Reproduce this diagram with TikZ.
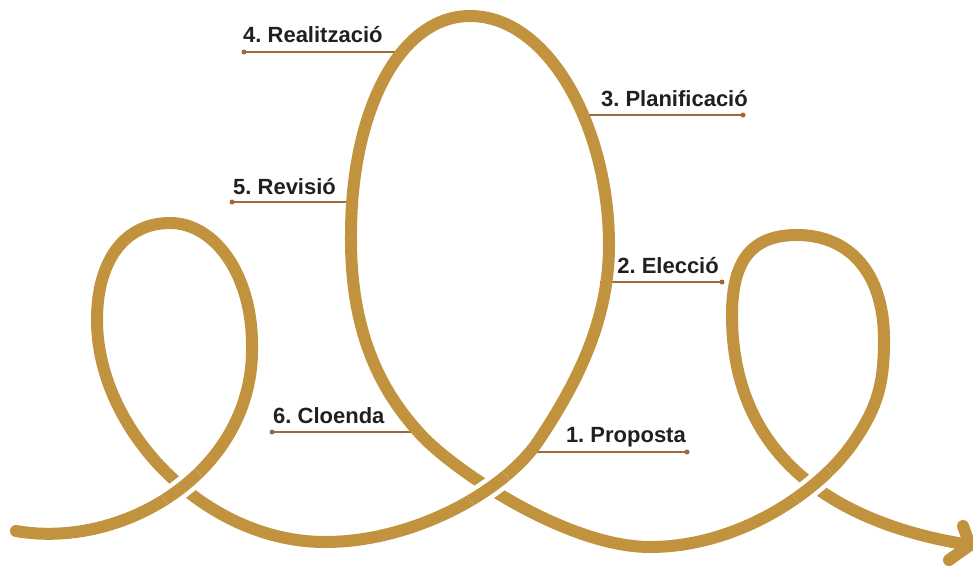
\documentclass[tikz,border=0pt]{standalone}
\usepackage{fontspec}
\setmainfont{Liberation Sans}
\definecolor{gold}{RGB}{193,147,63}
\definecolor{leader}{RGB}{158,106,58}
\definecolor{txt}{RGB}{35,31,32}
\frenchspacing
\begin{document}
\begin{tikzpicture}[x=1pt,y=-1pt,
  rope/.style={draw=gold,line width=12pt,line cap=round,line join=round},
  gapper/.style={draw=white,line width=21pt,line cap=butt},
  overrope/.style={draw=gold,line width=12pt,line cap=round},
  leaderline/.style={draw=leader,line width=1.6pt},
  leaderdot/.style={fill=leader,circle,inner sep=0pt,minimum size=5pt},
  lab/.style={font=\fontsize{22}{25}\selectfont\bfseries,text=txt,inner sep=0pt}]
\useasboundingbox (0,0) rectangle (973,566);

% curve key points
\coordinate (J0) at (16,531);
\coordinate (J1) at (252,345);
\coordinate (T1) at (170,223);
\coordinate (L1) at (97,320);
\coordinate (B1) at (325,542);
\coordinate (J2) at (539,440);
\coordinate (J3) at (609,245);
\coordinate (T2) at (470,16);
\coordinate (L2) at (351,235);
\coordinate (M)  at (424,438);
\coordinate (B2) at (650,547);
\coordinate (J5) at (855,440);
\coordinate (J4) at (884,340);
\coordinate (T3) at (797,235);
\coordinate (L3) at (732,315);
\coordinate (E)  at (970,545);
\coordinate (AU) at (963,526);
\coordinate (AD) at (949,560);

% leader lines (drawn under the curve)
\node[leaderdot] (d1) at (687,452) {};
\node[leaderdot] (d2) at (722,282) {};
\node[leaderdot] (d3) at (743,115) {};
\node[leaderdot] (d4) at (244,52) {};
\node[leaderdot] (d5) at (232,202) {};
\node[leaderdot] (d6) at (272,432) {};
\coordinate (c1) at (525,452);
\coordinate (c2) at (600,282);
\coordinate (c3) at (580,115);
\coordinate (c4) at (405,52);
\coordinate (c5) at (358,202);
\coordinate (c6) at (418,432);
\foreach \i in {1,...,6} \draw[leaderline] (d\i.center) -- (c\i);

% full curve
\draw[rope] (J0) .. controls (125,550) and (255,470) .. (J1)
  .. controls (252,275) and (215,223) .. (T1)
  .. controls (125,223) and (97,260) .. (L1)
  .. controls (97,430) and (205,542) .. (B1)
  .. controls (415,542) and (506,490) .. (J2)
  .. controls (577,383) and (609,320) .. (J3)
  .. controls (609,130) and (550,16) .. (T2)
  .. controls (400,16) and (351,110) .. (L2)
  .. controls (350,340) and (386,398) .. (M)
  .. controls (462,476) and (570,547) .. (B2)
  .. controls (740,547) and (822,490) .. (J5)
  .. controls (877,407) and (884,385) .. (J4)
  .. controls (884,270) and (847,235) .. (T3)
  .. controls (752,235) and (732,260) .. (L3)
  .. controls (732,460) and (840,525) .. (E);
\draw[rope] (AU) -- (E) -- (AD);

% crossings: redraw the upper strand with a white border
\begin{scope}
  \clip (182,487) circle (22);
  \draw[gapper] (J0) .. controls (125,550) and (255,470) .. (J1);
  \draw[overrope] (J0) .. controls (125,550) and (255,470) .. (J1);
\end{scope}
\begin{scope}
  \clip (489,489) circle (22);
  \draw[gapper] (B1) .. controls (415,542) and (506,490) .. (J2);
  \draw[overrope] (B1) .. controls (415,542) and (506,490) .. (J2);
\end{scope}
\begin{scope}
  \clip (813,485) circle (22);
  \draw[gapper] (B2) .. controls (740,547) and (822,490) .. (J5);
  \draw[overrope] (B2) .. controls (740,547) and (822,490) .. (J5);
\end{scope}

% labels
\node[lab,anchor=base east] (t1) at (686,442) {1. Proposta};
\node[lab,anchor=base east] (t2) at (719,273) {2. Elecció};
\node[lab,anchor=base east] (t3) at (748,106) {3. Planificació};
\node[lab,anchor=base west] (t4) at (243,42) {4. Realització};
\node[lab,anchor=base west] (t5) at (233,194) {5. Revisió};
\node[lab,anchor=base west] (t6) at (273,423) {6. Cloenda};
\end{tikzpicture}
\end{document}
